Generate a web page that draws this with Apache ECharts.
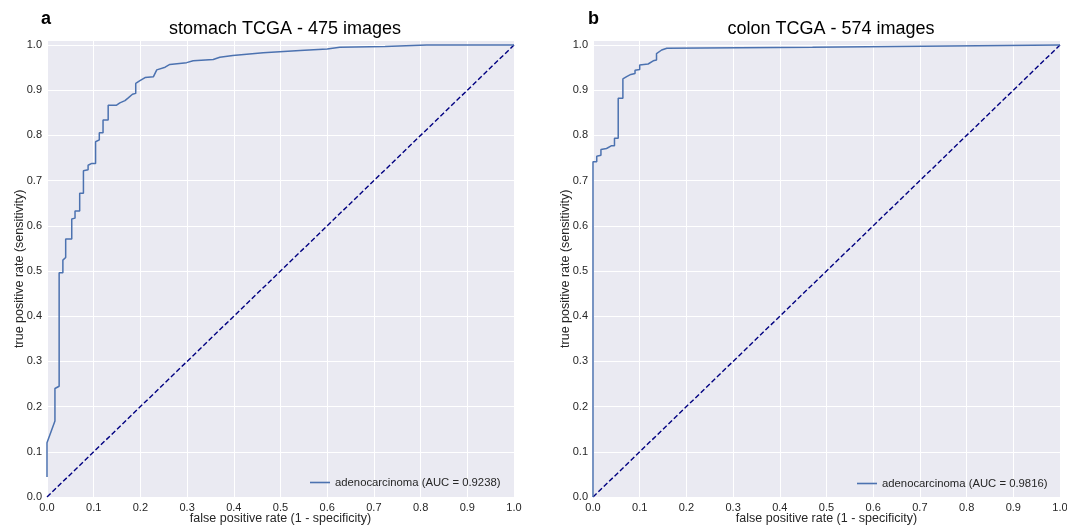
<!DOCTYPE html>
<html>
<head>
<meta charset="utf-8">
<script src="https://cdn.jsdelivr.net/npm/echarts@6/dist/echarts.min.js"></script>
<style>
  html, body { margin: 0; padding: 0; background: #fff; }
  #chart { width: 1067px; height: 527px; }
</style>
</head>
<body>
<div id="chart"></div>
<script>
// stomach TCGA ROC
const stomachFpr = [0, 0, 0.017, 0.017, 0.026, 0.026, 0.034, 0.034, 0.040, 0.040, 0.053, 0.053, 0.060, 0.060, 0.070, 0.070, 0.078, 0.078, 0.088, 0.088, 0.096, 0.104, 0.104, 0.112, 0.112, 0.120, 0.120, 0.131, 0.131, 0.149, 0.156, 0.167, 0.174, 0.183, 0.190, 0.190, 0.199, 0.210, 0.228, 0.235, 0.253, 0.263, 0.299, 0.313, 0.356, 0.370, 0.398, 0.463, 0.542, 0.600, 0.627, 0.724, 0.813, 1.0]
const stomachTpr = [0.044, 0.120, 0.168, 0.240, 0.245, 0.496, 0.496, 0.524, 0.530, 0.571, 0.571, 0.615, 0.617, 0.633, 0.633, 0.672, 0.672, 0.722, 0.724, 0.734, 0.738, 0.738, 0.786, 0.790, 0.806, 0.806, 0.834, 0.834, 0.867, 0.867, 0.872, 0.877, 0.883, 0.891, 0.893, 0.915, 0.921, 0.928, 0.930, 0.945, 0.951, 0.957, 0.961, 0.965, 0.968, 0.973, 0.977, 0.983, 0.988, 0.991, 0.995, 0.997, 1.0, 1.0]

// colon TCGA ROC
const colonFpr = [0, 0, 0.008, 0.008, 0.017, 0.017, 0.029, 0.039, 0.046, 0.046, 0.054, 0.054, 0.064, 0.064, 0.072, 0.081, 0.090, 0.090, 0.100, 0.100, 0.118, 0.129, 0.136, 0.136, 0.147, 0.158, 0.470, 0.470, 1.0]
const colonTpr = [0, 0.742, 0.742, 0.754, 0.756, 0.769, 0.771, 0.777, 0.777, 0.794, 0.794, 0.882, 0.882, 0.925, 0.930, 0.935, 0.937, 0.944, 0.946, 0.956, 0.958, 0.965, 0.967, 0.981, 0.989, 0.993, 0.995, 0.999, 1.0]

const chanceLine = [0, 1]

const panelTitles = ['stomach TCGA - 475 images', 'colon TCGA - 574 images']
const panelLetters = ['a', 'b']
const curveNames = ['adenocarcinoma (AUC = 0.9238)', 'adenocarcinoma (AUC = 0.9816)']

const zip = (xs, ys) => xs.map((x, i) => [x, ys[i]])

const font = '"Liberation Sans", Arial, sans-serif'
const textColor = '#262626'
const gridLefts = [47, 593]
const lineIcon = 'path://M0,0L20,0L20,1.6L0,1.6Z'

const chart = echarts.init(document.getElementById('chart'))

const tickFmt = v => (Math.abs(v * 10 - Math.round(v * 10)) < 1e-6 ? v.toFixed(1) : '')

function makeAxis(kind, idx) {
  const isY = kind === 'y'
  return {
    type: 'value',
    gridIndex: idx,
    min: 0,
    max: isY ? 1.01 : 1,
    interval: 0.1,
    name: isY ? 'true positive rate (sensitivity)' : 'false positive rate (1 - specificity)',
    nameLocation: 'middle',
    nameMoveOverlap: false,
    nameGap: isY ? 21 : 15,
    nameTextStyle: { fontFamily: font, fontSize: 12.5, color: textColor },
    axisLine: { show: false },
    axisTick: { show: false },
    axisLabel: {
      formatter: tickFmt,
      fontFamily: font,
      fontSize: 11,
      color: textColor,
      margin: 5,
      showMinLabel: true,
      showMaxLabel: true,
    },
    splitLine: { show: true, lineStyle: { color: '#ffffff', width: 1 } },
  }
}

const legendStyle = {
  itemWidth: 20, itemHeight: 2, icon: lineIcon, itemGap: 8,
  textStyle: { fontFamily: font, fontSize: 11.3, color: textColor },
}

const option = {
  animation: false,
  backgroundColor: '#ffffff',
  title: [
    { text: panelLetters[0], left: 36, top: 5, textStyle: { fontFamily: font, fontSize: 18, fontWeight: 'bold', color: '#000' } },
    { text: panelTitles[0], left: 280, textAlign: 'center', top: 15, textStyle: { fontFamily: font, fontSize: 18, fontWeight: 'normal', color: '#000' } },
    { text: panelLetters[1], left: 583, top: 5, textStyle: { fontFamily: font, fontSize: 18, fontWeight: 'bold', color: '#000' } },
    { text: panelTitles[1], left: 826, textAlign: 'center', top: 15, textStyle: { fontFamily: font, fontSize: 18, fontWeight: 'normal', color: '#000' } },
  ],
  legend: [
    Object.assign({ data: [curveNames[0]], left: 305, top: 472 }, legendStyle),
    Object.assign({ data: [curveNames[1]], left: 852, top: 473 }, legendStyle),
  ],
  grid: gridLefts.map(l => ({
    left: l, width: 467, top: 40.5, height: 456.5,
    outerBoundsMode: 'none',
    show: true, backgroundColor: '#EAEAF2', borderWidth: 0,
  })),
  xAxis: [makeAxis('x', 0), makeAxis('x', 1)],
  yAxis: [makeAxis('y', 0), makeAxis('y', 1)],
  series: [
    {
      name: 'chance 1', type: 'line', xAxisIndex: 0, yAxisIndex: 0, symbol: 'none', silent: true,
      data: zip(chanceLine, chanceLine),
      lineStyle: { color: '#000080', width: 1.4, type: [5, 2.5] },
    },
    {
      name: curveNames[0], type: 'line', xAxisIndex: 0, yAxisIndex: 0, symbol: 'none', clip: false,
      data: zip(stomachFpr, stomachTpr),
      lineStyle: { color: '#4C72B0', width: 1.5 }, itemStyle: { color: '#4C72B0' },
    },
    {
      name: 'chance 2', type: 'line', xAxisIndex: 1, yAxisIndex: 1, symbol: 'none', silent: true,
      data: zip(chanceLine, chanceLine),
      lineStyle: { color: '#000080', width: 1.4, type: [5, 2.5] },
    },
    {
      name: curveNames[1], type: 'line', xAxisIndex: 1, yAxisIndex: 1, symbol: 'none', clip: false,
      data: zip(colonFpr, colonTpr),
      lineStyle: { color: '#4C72B0', width: 1.5 }, itemStyle: { color: '#4C72B0' },
    },
  ],
}

chart.setOption(option)
</script>
</body>
</html>
